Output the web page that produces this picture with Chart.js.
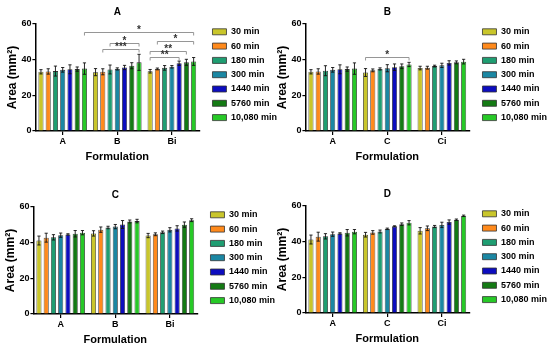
<!DOCTYPE html>
<html lang="en">
<head>
<meta charset="UTF-8">
<title>Area vs formulation</title>
<script src="https://cdn.jsdelivr.net/npm/chart.js"></script>
<style>
  body { margin: 0; background: #fff; }
  .figure { position: relative; width: 550px; height: 349px; overflow: hidden; background: #fff; }
  .figure canvas { position: absolute; }
</style>
</head>
<body>
<div class="figure">
  <canvas id="chartA" width="290" height="175" style="left:0px;top:0px"></canvas>
  <canvas id="chartB" width="290" height="175" style="left:270px;top:0px"></canvas>
  <canvas id="chartC" width="290" height="175" style="left:-2px;top:183px"></canvas>
  <canvas id="chartD" width="290" height="175" style="left:270px;top:182px"></canvas>
</div>
<script>
// time points (one series each) and their colours
const timePoints = ['30 min', '60 min', '180 min', '300 min', '1440 min', '5760 min', '10,080 min'];
const barColors = ['#c9c62b', '#ff8a1c', '#1f9e72', '#1b87a3', '#0d0dbf', '#147a14', '#27c927'];

// panel A: mean area per formulation, one value per time point
const catsA = ['A', 'B', 'Bi'];
const meanA = [
    [33.2, 33.4, 33.6, 34.3, 34.6, 34.7, 35.0],
    [33.0, 33.2, 34.5, 34.8, 35.6, 36.6, 38.5],
    [33.5, 34.8, 35.4, 36.0, 38.0, 38.5, 39.0]
];
const sdA = [
    [1.2, 1.5, 2.8, 1.3, 2.5, 1.2, 3.2],
    [2.0, 1.7, 2.5, 0.6, 1.2, 1.7, 4.5],
    [1.0, 0.5, 1.3, 0.7, 1.2, 1.7, 2.2]
];
// significance: [from category, from series, to category, to series, height, label]
const sigA = [
    [0, 6, 2, 6, 55.5, '*'],
    [1, 2, 1, 6, 49.6, '*'],
    [1, 1, 1, 6, 45.8, '***'],
    [2, 1, 2, 6, 50.7, '*'],
    [2, 0, 2, 5, 44.9, '**'],
    [2, 0, 2, 4, 41.7, '**']
];

// panel B
const catsB = ['A', 'C', 'Ci'];
const meanB = [
    [33.2, 33.4, 33.8, 34.3, 34.6, 34.7, 35.0],
    [32.8, 34.0, 34.8, 35.2, 35.8, 36.3, 37.3],
    [35.3, 35.5, 36.4, 36.8, 38.2, 38.5, 38.9]
];
const sdB = [
    [1.2, 1.5, 2.8, 1.3, 2.5, 1.2, 3.2],
    [2.2, 0.8, 0.6, 2.0, 1.8, 1.3, 1.2],
    [1.0, 0.8, 0.5, 1.2, 1.2, 0.8, 1.3]
];
const sigB = [
    [1, 0, 1, 6, 41.5, '*']
];

// panel C
const catsC = ['A', 'B', 'Bi'];
const meanC = [
    [41.2, 42.8, 43.0, 44.2, 44.6, 45.0, 45.6],
    [45.2, 47.3, 48.5, 49.0, 50.2, 51.9, 52.1],
    [44.0, 44.7, 45.8, 47.2, 48.0, 50.1, 52.6]
];
const sdC = [
    [2.5, 2.5, 1.5, 1.2, 0.4, 1.8, 1.2],
    [1.5, 1.5, 0.7, 1.2, 2.2, 0.8, 1.0],
    [1.2, 0.8, 0.7, 1.2, 1.5, 1.5, 0.8]
];

// panel D
const catsD = ['A', 'C', 'Ci'];
const meanD = [
    [41.2, 42.8, 43.0, 44.2, 44.6, 45.0, 45.6],
    [43.9, 45.2, 45.7, 47.2, 48.6, 49.8, 50.6],
    [46.1, 47.5, 48.5, 49.4, 51.0, 52.3, 54.5]
];
const sdD = [
    [2.5, 2.5, 1.5, 1.2, 0.4, 1.8, 1.2],
    [1.3, 1.0, 0.8, 0.4, 0.3, 0.7, 1.2],
    [1.8, 1.3, 0.6, 1.5, 1.2, 0.4, 0.4]
];

const yTicks = [0, 20, 40, 60];

const FONT = "'Liberation Sans', Arial, sans-serif";

// error bars (mean +/- sd) on every bar
const errorBars = {
    id: 'errorBars',
    afterDatasetsDraw(chart) {
        const ctx = chart.ctx;
        const y = chart.scales.y;
        ctx.save();
        ctx.strokeStyle = '#111';
        ctx.lineWidth = 0.9;
        chart.data.datasets.forEach((ds, i) => {
            chart.getDatasetMeta(i).data.forEach((bar, j) => {
                const v = ds.data[j], e = ds.errors[j];
                const top = y.getPixelForValue(v + e);
                const bot = y.getPixelForValue(v - e);
                ctx.beginPath();
                ctx.moveTo(bar.x, top);
                ctx.lineTo(bar.x, bot);
                ctx.moveTo(bar.x - 1.6, top);
                ctx.lineTo(bar.x + 1.6, top);
                ctx.moveTo(bar.x - 1.6, bot);
                ctx.lineTo(bar.x + 1.6, bot);
                ctx.stroke();
            });
        });
        ctx.restore();
    }
};

// significance brackets
const brackets = {
    id: 'brackets',
    afterDatasetsDraw(chart, args, opts) {
        const list = opts.items || [];
        if (!list.length) return;
        const ctx = chart.ctx;
        const y = chart.scales.y;
        ctx.save();
        list.forEach(([c0, s0, c1, s1, h, label]) => {
            const x0 = chart.getDatasetMeta(s0).data[c0].x;
            const x1 = chart.getDatasetMeta(s1).data[c1].x;
            const py = Math.round(y.getPixelForValue(h)) + 0.5;
            ctx.strokeStyle = '#8a8a8a';
            ctx.lineWidth = 0.9;
            ctx.beginPath();
            ctx.moveTo(x0, py + 3);
            ctx.lineTo(x0, py);
            ctx.lineTo(x1, py);
            ctx.lineTo(x1, py + 3);
            ctx.stroke();
            ctx.fillStyle = '#333';
            ctx.font = 'bold 10px ' + FONT;
            ctx.textAlign = 'center';
            ctx.textBaseline = 'bottom';
            ctx.fillText(label, (x0 + x1) / 2, py + 3);
        });
        ctx.restore();
    }
};

function makePanel(id, title, cats, means, sds, sig) {
    const datasets = timePoints.map((t, s) => ({
        label: t,
        data: means.map(row => row[s]),
        errors: sds.map(row => row[s]),
        backgroundColor: barColors[s],
        borderColor: '#333',
        borderWidth: 0.8,
        categoryPercentage: 0.93,
        barPercentage: 0.7,
        xAxisID: 'x',
        yAxisID: 'y'
    }));
    new Chart(document.getElementById(id), {
        type: 'bar',
        data: { labels: cats, datasets: datasets },
        plugins: [errorBars, brackets],
        options: {
            responsive: false,
            animation: false,
            devicePixelRatio: 1,
            layout: { padding: { left: 0, right: 3, top: 0, bottom: 11 } },
            plugins: {
                title: {
                    display: true,
                    text: title,
                    fullSize: false,
                    color: '#000',
                    font: { family: FONT, size: 10, weight: 'bold' },
                    padding: { top: 6, bottom: 6 }
                },
                legend: {
                    position: 'right',
                    align: 'start',
                    maxWidth: 120,
                    title: { display: true, text: ' ', font: { size: 10 }, padding: { top: 10, bottom: 0 } },
                    labels: {
                        boxWidth: 14,
                        boxHeight: 6,
                        padding: 5.3,
                        color: '#000',
                        font: { family: FONT, size: 9, weight: 'bold' }
                    }
                },
                tooltip: { enabled: false },
                brackets: { items: sig || [] }
            },
            scales: {
                x: {
                    grid: { offset: false, drawOnChartArea: false, color: '#000', lineWidth: 1.2, tickLength: 4 },
                    border: { color: '#000', width: 1.5 },
                    ticks: { color: '#000', padding: 1, font: { family: FONT, size: 9, weight: 'bold' } },
                    title: {
                        display: true, text: 'Formulation', color: '#000',
                        font: { family: FONT, size: 11, weight: 'bold' },
                        padding: { top: 3, bottom: 0 }
                    }
                },
                y: {
                    min: 0,
                    max: 60,
                    afterBuildTicks: s => { s.ticks = yTicks.map(v => ({ value: v })); },
                    grid: { drawOnChartArea: false, color: '#000', lineWidth: 1.2, tickLength: 3 },
                    border: { color: '#000', width: 1.5 },
                    ticks: { color: '#000', padding: 1, font: { family: FONT, size: 9, weight: 'bold' } },
                    title: {
                        display: true, text: 'Area (mm²)', color: '#000',
                        font: { family: FONT, size: 12, weight: 'bold' },
                        padding: { top: 5, bottom: 1 }
                    }
                },
                // empty spacer between the plot and the legend
                gap: {
                    type: 'linear',
                    position: 'right',
                    display: true,
                    grid: { display: false },
                    border: { display: false },
                    ticks: { display: false },
                    afterFit: s => { s.width = 8; }
                }
            }
        }
    });
}

makePanel('chartA', 'A', catsA, meanA, sdA, sigA);
makePanel('chartB', 'B', catsB, meanB, sdB, sigB);
makePanel('chartC', 'C', catsC, meanC, sdC, []);
makePanel('chartD', 'D', catsD, meanD, sdD, []);
</script>
</body>
</html>
